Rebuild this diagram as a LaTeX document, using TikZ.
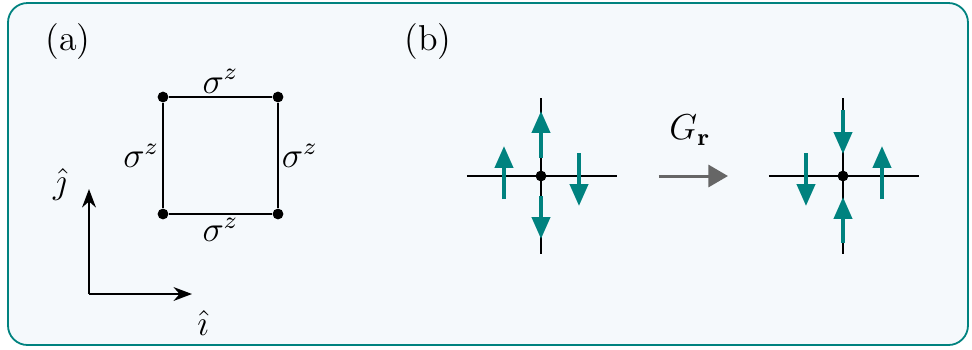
\documentclass[tikz,border=0pt]{standalone}
\usetikzlibrary{arrows.meta,positioning}
\definecolor{mTeal}{HTML}{00827F}
\definecolor{mBack}{HTML}{F5F9FC}
\definecolor{mGrey}{HTML}{666666}
\tikzset{
  >=Stealth,
  site/.style ={circle,fill=black,inner sep=0pt,minimum size=3.6pt},
  bond/.style ={black,line width=0.65pt},
  spin/.style ={-{Triangle[length=7.3pt,width=6pt]},line width=1.3pt,mTeal},
  axis/.style ={->,line width=0.7pt},
  lbl/.style  ={inner sep=1pt},
}
\begin{document}
\begin{tikzpicture}[x=0.3333pt,y=-0.3333pt,font=\large]
  \useasboundingbox (0,0) rectangle (972,349);
  \draw[mTeal,line width=0.6pt,fill=mBack,rounded corners=6.5pt] (8,3) rectangle (968,345);

  % (a) plaquette
  \node at (68,42) {(a)};
  \node[site] (p1) at (163,97) {};
  \node[site] (p2) at (278,97) {};
  \node[site] (p3) at (278,214) {};
  \node[site] (p4) at (163,214) {};
  \draw[bond] (p1) -- node[lbl,above] {$\sigma^z$} (p2);
  \draw[bond] (p2) -- node[lbl,right] {$\sigma^z$} (p3);
  \draw[bond] (p3) -- node[lbl,below] {$\sigma^z$} (p4);
  \draw[bond] (p4) -- node[lbl,left] {$\sigma^z$} (p1);

  % axes
  \coordinate (o) at (89,294);
  \coordinate (ey) at (89,189);
  \coordinate (ex) at (192,294);
  \draw[axis] (o) -- (ey);
  \draw[axis] (o) -- (ex);
  \node (jhat) at (60,184) {$\hat{\jmath}$};
  \node (ihat) at (203,323) {$\hat{\imath}$};

  % (b) vertex before
  \node at (428,42) {(b)};
  \node[site] (c1) at (541,176) {};
  \coordinate (c1w) at (467,176);
  \coordinate (c1e) at (617,176);
  \coordinate (c1n) at (541,98);
  \coordinate (c1s) at (541,254);
  \draw[bond] (c1w) -- (c1e);
  \draw[bond] (c1n) -- (c1s);
  \draw[spin] (541,158) -- (541,111);
  \draw[spin] (541,196) -- (541,239);
  \draw[spin] (504,199) -- (504,146);
  \draw[spin] (579,153) -- (579,206);

  % map
  \coordinate (g1) at (659,176);
  \coordinate (g2) at (728,176);
  \draw[-{Triangle[length=6.5pt,width=7.3pt]},line width=1pt,mGrey] (g1) -- (g2);
  \node (G) at (690,130) {$G_{\mathbf{r}}$};

  % (b) vertex after
  \node[site] (c2) at (843,176) {};
  \coordinate (c2w) at (769,176);
  \coordinate (c2e) at (919,176);
  \coordinate (c2n) at (843,98);
  \coordinate (c2s) at (843,254);
  \draw[bond] (c2w) -- (c2e);
  \draw[bond] (c2n) -- (c2s);
  \draw[spin] (843,110) -- (843,154);
  \draw[spin] (843,243) -- (843,197);
  \draw[spin] (806,153) -- (806,206);
  \draw[spin] (882,199) -- (882,146);
\end{tikzpicture}
\end{document}
